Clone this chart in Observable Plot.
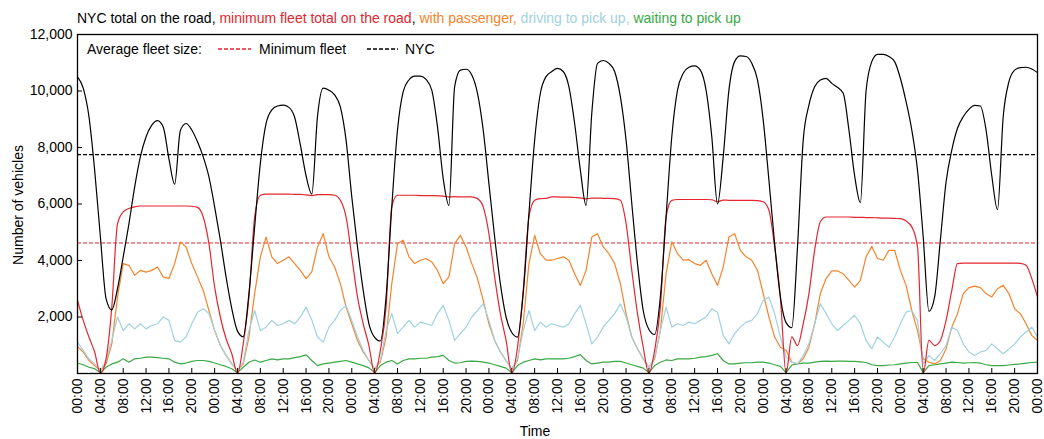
<!DOCTYPE html>
<html><head><meta charset="utf-8">
<script src="https://cdn.jsdelivr.net/npm/d3@7"></script>
<script src="https://cdn.jsdelivr.net/npm/@observablehq/plot@0.6"></script>
<style>
body{margin:0;background:#fff;font-family:"Liberation Sans",Arial,sans-serif;color:#000;}
#wrap{position:relative;width:1044px;height:439px;overflow:hidden;}
#title{position:absolute;left:77px;top:10px;font-size:14px;white-space:nowrap;line-height:16px;}
#chart{position:absolute;left:0;top:26px;}
#legend{position:absolute;left:87px;top:41px;font-size:14px;line-height:16px;white-space:nowrap;}
#legend span,#legend svg{position:absolute;top:0;}
#ylab{position:absolute;left:18px;top:205px;font-size:14px;line-height:16px;white-space:nowrap;transform:translate(-50%,-50%) rotate(-90deg);}
#xlab{position:absolute;left:535px;top:424px;font-size:14px;line-height:14px;transform:translateX(-50%);}
</style></head><body>
<div id="wrap">
  <div id="title"></div>
  <div id="chart"></div>
  <div id="legend"></div>
  <div id="ylab">Number of vehicles</div>
  <div id="xlab">Time</div>
</div>
<script>
// ---- data (hourly readings over one week, hour 0..168) ----
const hours = d3.range(0, 169);
const tickHours = d3.range(0, 169, 4);
const yTicks = [2000, 4000, 6000, 8000, 10000, 12000];

const nycTotal = [
10500,10100,9100,7200,4850,2650,2250,3000,4130,5300,6600,7670,8380,8790,8950,8730,7600,6700,8600,8850,8620,8200,7670,6960,
5900,4720,3420,2300,1500,1300,2830,5190,7440,8850,9330,9470,9500,9420,9070,8090,7000,6350,9100,10100,10030,9860,9440,8260,
6250,4480,2940,1760,1280,1150,2710,5900,8620,9980,10390,10530,10530,10410,10030,8730,6900,5950,10150,10740,10770,10570,9920,8620,
6720,4830,3180,2000,1450,1290,2830,5660,8260,9920,10510,10690,10800,10690,10150,8850,7200,5950,9210,10980,11080,10980,10690,9800,
8260,6020,3890,2230,1560,1380,2710,5540,8380,10030,10630,10840,10890,10740,10030,8380,6000,7670,10030,11040,11240,11220,10980,10390,
8970,6840,4600,2710,1800,1620,4480,8260,9500,10150,10390,10450,10270,10130,9920,8620,7000,6050,10000,11040,11300,11300,11220,11040,
10450,9620,8620,7200,4830,2200,2710,4720,6780,7910,8680,9090,9350,9490,9470,8620,7000,5800,9090,10330,10740,10830,10840,10780,
10650];

const minFleetTotal = [
2590,1880,1290,760,0,520,2350,5300,5720,5840,5900,5930,5930,5930,5930,5930,5930,5930,5930,5930,5920,5880,5540,4600,
3060,2000,1230,700,0,1050,2700,5540,6310,6350,6350,6350,6350,6350,6340,6340,6320,6300,6330,6330,6330,6310,6130,5540,
4130,2710,1760,990,0,820,2350,5900,6310,6310,6310,6310,6300,6300,6300,6290,6280,6250,6260,6250,6250,6250,6190,5900,
4950,3420,2120,1170,0,930,2940,5540,6130,6190,6200,6250,6250,6240,6240,6230,6220,6180,6210,6210,6200,6200,6190,6130,
5310,3650,2120,930,0,820,2350,5540,6130,6160,6160,6160,6160,6160,6160,6150,6080,6140,6130,6130,6130,6130,6130,6120,
6080,5780,4480,2710,0,1300,990,1760,2830,4360,5370,5540,5540,5540,5540,5540,5530,5530,5520,5520,5510,5500,5500,5490,
5480,5400,5190,4480,0,1170,990,1170,1880,2940,3890,3910,3910,3910,3910,3910,3910,3910,3910,3910,3910,3900,3830,3360,
2710];

const withPassenger = [
950,760,460,280,100,340,1050,2700,3890,3830,3480,3650,3590,3650,3770,3420,3360,3890,4660,4480,3890,3420,2940,2230,
1520,990,640,340,100,340,1290,2830,4130,4830,4130,3890,4010,4130,3890,3650,3360,3600,4480,4950,4130,3770,3180,2350,
1760,1170,760,460,170,400,1290,3180,4600,4720,4130,3890,4010,4070,3950,3650,3180,3420,4600,4890,4480,3890,3360,2590,
1760,1170,760,460,170,460,1760,3890,4890,4240,4010,4010,4070,4130,4010,3530,3120,3650,4830,4950,4480,4240,3890,3180,
2120,1290,870,520,220,520,1520,3530,4660,4240,4010,4030,3890,3830,4010,3530,3120,3770,4830,4950,4360,4130,4010,3650,
2830,2000,1290,930,820,400,340,520,930,1760,2830,3360,3630,3630,3530,3300,3060,3300,4130,4500,4070,4010,4360,4360,
3650,3120,2230,1520,520,400,340,460,870,1640,2120,2830,3040,3090,3040,2830,2710,3000,3120,2830,2290,2120,1760,1350,
1170];

const drivingToPickup = [
1110,820,520,340,100,460,1170,2000,1520,1760,1580,1760,1580,1700,1760,2000,1880,1170,1110,1290,1760,2170,2290,2120,
1520,990,640,340,100,400,1520,2230,1520,1640,1880,1700,1760,1880,1760,2000,2350,1900,1290,1110,1640,1880,2230,2410,
1880,1290,820,460,170,460,1520,2120,1410,1640,1880,1640,1820,1760,1700,2120,2410,1880,1170,1410,1640,2000,2230,2470,
1880,1170,760,460,170,520,1520,2230,1520,1820,1640,1760,1700,1640,1760,2120,2410,1760,1050,1290,1640,1880,2120,2470,
2000,1290,870,520,200,580,1520,2350,1640,1760,1700,1820,1760,1880,2000,2290,2170,1350,1050,1410,1640,1820,1880,2120,
2590,2710,2120,1290,580,400,340,640,1050,1760,2470,2120,1760,1520,1700,1880,2060,1760,1170,870,1290,1110,930,1290,
1760,2170,2230,1880,340,640,460,700,990,1640,1520,1050,760,640,760,820,1050,870,700,870,1050,1290,1470,1640,
1290];

const waitingToPickup = [
370,310,220,170,30,220,340,400,520,400,520,540,580,580,560,540,520,400,340,370,430,460,460,430,
370,310,250,170,30,220,400,480,400,460,520,480,520,520,560,600,660,460,280,340,370,400,430,460,
400,340,280,200,30,280,400,460,340,460,520,520,540,540,580,600,640,460,370,380,430,440,430,400,
370,310,250,190,30,280,400,460,520,480,520,520,520,520,540,600,670,460,340,370,400,400,430,430,
370,310,250,190,30,280,400,480,460,520,520,520,540,580,600,640,700,460,340,340,370,380,380,400,
400,370,310,250,30,300,340,370,370,400,430,440,430,440,440,430,430,410,390,310,280,280,300,310,
340,370,390,390,30,280,310,340,370,400,390,370,380,390,370,310,280,280,280,300,320,340,370,390,
400];

const avgMinFleet = 4620;
const avgNyc = 7750;

const colors = {nyc: "#000000", minFleet: "#e3262f", passenger: "#f4842c", driving: "#9fd2e0", waiting: "#39a845"};

// ---- title ----
document.getElementById("title").innerHTML =
  `<span style="color:${colors.nyc}">NYC total on the road, </span>` +
  `<span style="color:${colors.minFleet}">minimum fleet total on the road</span><span>, </span>` +
  `<span style="color:${colors.passenger}">with passenger, </span>` +
  `<span style="color:${colors.driving}">driving to pick up, </span>` +
  `<span style="color:${colors.waiting}">waiting to pick up</span>`;

// ---- legend (inside the frame) ----
document.getElementById("legend").innerHTML =
  `<span style="left:0">Average fleet size:</span>` +
  `<svg style="left:131px" width="33" height="16"><line x1="0" x2="33" y1="8" y2="8" style="stroke:${colors.minFleet};stroke-width:1.5;stroke-dasharray:4,2"/></svg>` +
  `<span style="left:172px">Minimum fleet</span>` +
  `<svg style="left:280px" width="31" height="16"><line x1="0" x2="31" y1="8" y2="8" style="stroke:#000;stroke-width:1.5;stroke-dasharray:4,2"/></svg>` +
  `<span style="left:318px">NYC</span>`;

const lineOpts = (arr, color, curve) => Plot.lineY(arr, {x: (d, i) => hours[i], y: d => d, stroke: color, strokeWidth: 1.2, curve});

const chart = Plot.plot({
  width: 1044,
  height: 413,
  marginTop: 8,
  marginBottom: 66,
  marginLeft: 77,
  marginRight: 7,
  style: {fontFamily: "'Liberation Sans', Arial, sans-serif", fontSize: "14px", color: "#000", background: "#fff", overflow: "visible"},
  x: {domain: [0, 168], label: null},
  y: {domain: [0, 12000], label: null},
  marks: [
    Plot.ruleY([avgMinFleet], {stroke: colors.minFleet, strokeWidth: 1.2, strokeDasharray: "4,2"}),
    Plot.ruleY([avgNyc], {stroke: "#000", strokeWidth: 1.2, strokeDasharray: "4,2"}),
    lineOpts(waitingToPickup, colors.waiting, "linear"),
    lineOpts(withPassenger, colors.passenger, "linear"),
    lineOpts(drivingToPickup, colors.driving, "linear"),
    lineOpts(minFleetTotal, colors.minFleet, "monotone-x"),
    lineOpts(nycTotal, colors.nyc, "monotone-x"),
    Plot.axisX(tickHours, {tickSize: -5, tickPadding: 10, tickRotate: -90, label: null,
      tickFormat: d => String(d % 24).padStart(2, "0") + ":00"}),
    Plot.axisY(yTicks, {tickSize: -5, tickPadding: 10, label: null, tickFormat: d3.format(",")}),
    Plot.frame({stroke: "#000", strokeWidth: 1.3})
  ]
});
document.getElementById("chart").appendChild(chart);
</script>
</body></html>
